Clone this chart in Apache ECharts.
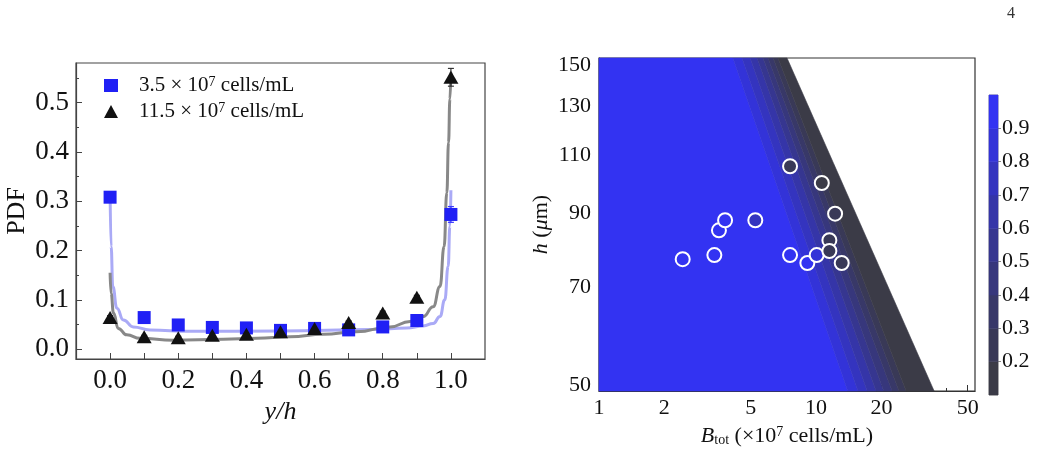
<!DOCTYPE html>
<html>
<head>
<meta charset="utf-8">
<script src="https://cdn.jsdelivr.net/npm/echarts@6.0.0/dist/echarts.min.js"></script>
<style>
  html, body { margin: 0; padding: 0; background: #fff; }
  #main { width: 1037px; height: 453px; }
</style>
</head>
<body>
<div id="main"></div>
<script>
// ---- left panel: PDF across the channel ----
var yh = [0.0, 0.1, 0.2, 0.3, 0.4, 0.5, 0.6, 0.7, 0.8, 0.9, 1.0];
var pdfLow  = [0.308, 0.064, 0.049, 0.044, 0.043, 0.038, 0.042, 0.039, 0.045, 0.058, 0.273]; // 3.5e7
var pdfHigh = [0.064, 0.025, 0.023, 0.028, 0.030, 0.035, 0.042, 0.054, 0.073, 0.105, 0.551]; // 11.5e7
var errLow  = [0.010, 0.003, 0.003, 0.003, 0.003, 0.003, 0.003, 0.003, 0.003, 0.004, 0.016];
var errHigh = [0.004, 0.003, 0.003, 0.003, 0.003, 0.003, 0.003, 0.003, 0.004, 0.004, 0.018];

// fitted curves
var fitLowX = [0, 0.003, 0.008, 0.02, 0.039, 0.068, 0.117, 0.235, 0.5, 0.772, 0.87, 0.919, 0.948, 0.968, 0.982, 0.992, 0.997, 1.0];
var fitLowY = [0.320, 0.208, 0.127, 0.083, 0.059, 0.045, 0.039, 0.036, 0.037, 0.040, 0.043, 0.047, 0.052, 0.066, 0.100, 0.168, 0.249, 0.322];
var fitHighX = [0, 0.003, 0.01, 0.024, 0.049, 0.088, 0.186, 0.332, 0.43, 0.528, 0.626, 0.723, 0.821, 0.88, 0.919, 0.948, 0.968, 0.98, 0.988, 0.993, 0.997, 1.0];
var fitHighY = [0.155, 0.113, 0.073, 0.042, 0.029, 0.022, 0.018, 0.020, 0.022, 0.025, 0.030, 0.035, 0.045, 0.056, 0.066, 0.086, 0.127, 0.208, 0.317, 0.419, 0.507, 0.561];

// ---- right panel: phase map ----
var sampleB   = [2.43, 3.40, 3.57, 3.81, 5.25, 7.59, 7.59, 9.12, 10.07, 10.63, 11.52, 11.52, 12.24, 13.13];
var sampleH   = [77.0, 78.1, 85.0, 88.0, 88.0, 105.9, 78.1, 76.0, 78.1, 100.0, 82.2, 79.2, 90.0, 76.0];
var sampleVal = [0.95, 0.95, 0.95, 0.95, 0.75, 0.25, 0.95, 0.95, 0.85, 0.15, 0.25, 0.25, 0.25, 0.25];

// contour edges (left to right): B at the top (h=153.5) and bottom (h=49) of the frame
var edgeLevels = [1.0, 0.9, 0.8, 0.7, 0.6, 0.5, 0.4, 0.3, 0.2, 0.1];
var edgeTopB   = [1.0, 4.14, 4.56, 4.97, 5.35, 5.70, 6.01, 6.34, 6.68, 7.35];
var edgeBotB   = [1.0, 14.0, 15.6, 17.2, 18.9, 20.5, 22.4, 24.1, 26.0, 35.0];

var barLevels = [0.1, 0.2, 0.3, 0.4, 0.5, 0.6, 0.7, 0.8, 0.9, 1.0];
var barColors = ['#3b3b47', '#393957', '#383868', '#37377c', '#363690', '#3535a8', '#3434bf', '#3333d8', '#3333f2'];

var hMin = 49, hMax = 153.5, bMin = 1, bMax = 54;
var majorB = [1, 2, 5, 10, 20, 50];
var minorB = [3, 4, 6, 7, 8, 9, 30, 40];
var majorH = [50, 70, 90, 110, 130, 150];

var serif = 'Liberation Serif';
var ink = '#111';

function colorFor(v) {
  var k = Math.floor((v - 0.1) * 10 + 1e-9);
  return barColors[Math.max(0, Math.min(barColors.length - 1, k))];
}
function lg(v) { return Math.log10(v); }

var chart = echarts.init(document.getElementById('main'));

var option = {
  animation: false,
  backgroundColor: '#fff',
  textStyle: { fontFamily: serif, color: ink },
  graphic: [{
    type: 'text', left: 1007, top: 6,
    style: { text: '4', font: '16px "Liberation Serif"', fill: '#333' }
  }],
  legend: {
    left: 104, top: 75, orient: 'vertical', padding: 0,
    itemWidth: 14, itemHeight: 13, itemGap: 5,
    data: ['low', 'high'],
    formatter: function (n) {
      return n === 'low' ? '{g|}3.5 × 10{s|7} cells/mL' : '{g|}11.5 × 10{s|7} cells/mL';
    },
    textStyle: {
      fontFamily: serif, fontSize: 21, color: ink,
      rich: { s: { fontSize: 14, verticalAlign: 'top', fontFamily: serif }, g: { width: 16 } }
    }
  },
  grid: [
    { left: 76, top: 63, width: 409, height: 296, show: true, borderColor: '#444', borderWidth: 1.2, backgroundColor: 'transparent' },
    { left: 599, top: 58, width: 376, height: 333, show: true, borderColor: '#333', borderWidth: 1.2, backgroundColor: 'transparent' },
    { left: 989, top: 95, width: 9, height: 300, show: true, borderColor: '#999', borderWidth: 1, backgroundColor: 'transparent' }
  ],
  xAxis: [
    { // 0 left panel
      type: 'value', gridIndex: 0, min: -0.1, max: 1.1,
      name: 'y/h', nameLocation: 'middle', nameGap: 38,
      nameTextStyle: { fontFamily: serif, fontSize: 26, fontStyle: 'italic', color: ink },
      axisLine: { onZero: false, lineStyle: { color: '#444', width: 1.2 } },
      axisTick: { inside: true, length: 6, customValues: yh, lineStyle: { color: '#444' } },
      axisLabel: { customValues: [0, 0.2, 0.4, 0.6, 0.8, 1.0], margin: 8, fontSize: 27, fontFamily: serif, color: ink,
        formatter: function (v) { return v.toFixed(1); } },
      splitLine: { show: false }
    },
    { // 1 right panel, log scale for data
      type: 'log', logBase: 10, gridIndex: 1, min: bMin, max: bMax, show: false
    },
    { // 2 right panel ticks/labels
      type: 'value', gridIndex: 1, position: 'bottom', min: 0, max: lg(bMax),
      name: '{i|B}{sub|tot} (×10{sup|7} cells/mL)', nameLocation: 'middle', nameGap: 34,
      nameTextStyle: { fontFamily: serif, fontSize: 22, color: ink,
        rich: {
          i: { fontStyle: 'italic', fontSize: 22, fontFamily: serif },
          sub: { fontSize: 14, verticalAlign: 'bottom', fontFamily: serif },
          sup: { fontSize: 14, verticalAlign: 'top', fontFamily: serif }
        } },
      axisLine: { onZero: false, lineStyle: { color: '#333', width: 1.2 } },
      axisTick: { inside: true, length: 6, customValues: majorB.map(lg), lineStyle: { color: '#333' } },
      axisLabel: { customValues: majorB.map(lg), margin: 6, fontSize: 22, fontFamily: serif, color: ink,
        formatter: function (v) { return String(Math.round(Math.pow(10, v))); } },
      splitLine: { show: false }
    },
    { // 3 right panel minor ticks
      type: 'value', gridIndex: 1, position: 'bottom', min: 0, max: lg(bMax),
      axisLine: { show: false, onZero: false },
      axisTick: { inside: true, length: 3, customValues: minorB.map(lg), lineStyle: { color: '#333' } },
      axisLabel: { show: false }, splitLine: { show: false }
    },
    { // 4 colorbar
      type: 'value', gridIndex: 2, min: 0, max: 1, show: false
    }
  ],
  yAxis: [
    { // 0 left panel
      type: 'value', gridIndex: 0, min: -0.02, max: 0.58,
      name: 'PDF', nameLocation: 'middle', nameGap: 46,
      nameTextStyle: { fontFamily: serif, fontSize: 26, color: ink },
      axisLine: { onZero: false, lineStyle: { color: '#444', width: 1.2 } },
      axisTick: { inside: true, length: 6, customValues: [0, 0.1, 0.2, 0.3, 0.4, 0.5], lineStyle: { color: '#444' } },
      axisLabel: { customValues: [0, 0.1, 0.2, 0.3, 0.4, 0.5], margin: 7, fontSize: 27, fontFamily: serif, color: ink,
        formatter: function (v) { return v.toFixed(1); } },
      splitLine: { show: false }
    },
    { // 1 left panel minor ticks
      type: 'value', gridIndex: 0, position: 'left', min: -0.02, max: 0.58,
      axisLine: { show: false, onZero: false },
      axisTick: { inside: true, length: 3, customValues: [0.05, 0.15, 0.25, 0.35, 0.45, 0.55], lineStyle: { color: '#444' } },
      axisLabel: { show: false }, splitLine: { show: false }
    },
    { // 2 right panel, log scale for data
      type: 'log', logBase: 10, gridIndex: 1, min: hMin, max: hMax, show: false
    },
    { // 3 right panel ticks/labels
      type: 'value', gridIndex: 1, position: 'left', min: lg(hMin), max: lg(hMax),
      name: '{i|h} ({i|μ}m)', nameLocation: 'middle', nameGap: 47,
      nameTextStyle: { fontFamily: serif, fontSize: 22, color: ink,
        rich: { i: { fontStyle: 'italic', fontSize: 22, fontFamily: serif } } },
      axisLine: { onZero: false, lineStyle: { color: '#333', width: 1.2 } },
      axisTick: { inside: true, length: 6, customValues: majorH.map(lg), lineStyle: { color: '#333' } },
      axisLabel: { customValues: majorH.map(lg), margin: 8, fontSize: 22, fontFamily: serif, color: ink,
        formatter: function (v) { return String(Math.round(Math.pow(10, v))); } },
      splitLine: { show: false }
    },
    { // 4 colorbar
      type: 'value', gridIndex: 2, position: 'right', min: 0.1, max: 1.0,
      axisLine: { show: false, onZero: false },
      axisTick: { length: 3, customValues: barLevels.slice(1, 9), lineStyle: { color: '#888' } },
      axisLabel: { customValues: barLevels.slice(1, 9), margin: 4, fontSize: 22, fontFamily: serif, color: ink,
        formatter: function (v) { return v.toFixed(1); } },
      splitLine: { show: false }
    }
  ],
  series: [
    {
      name: 'fitLow', type: 'line', xAxisIndex: 0, yAxisIndex: 0,
      data: fitLowX.map(function (x, i) { return [x, fitLowY[i]]; }),
      showSymbol: false, smooth: true, smoothMonotone: 'x',
      lineStyle: { color: '#aaaaf6', width: 3 }, z: 2
    },
    {
      name: 'fitHigh', type: 'line', xAxisIndex: 0, yAxisIndex: 0,
      data: fitHighX.map(function (x, i) { return [x, fitHighY[i]]; }),
      showSymbol: false, smooth: true, smoothMonotone: 'x',
      lineStyle: { color: '#888888', width: 3 }, z: 2
    },
    {
      name: 'errors', type: 'custom', xAxisIndex: 0, yAxisIndex: 0, z: 3,
      data: yh.map(function (x, i) { return [x, pdfLow[i], errLow[i], 0]; })
        .concat(yh.map(function (x, i) { return [x, pdfHigh[i], errHigh[i], 1]; })),
      renderItem: function (params, api) {
        var x = api.value(0), y = api.value(1), e = api.value(2);
        var top = api.coord([x, y + e]), bot = api.coord([x, y - e]);
        var c = api.value(3) ? '#333' : '#3a3aff';
        var st = { stroke: c, lineWidth: 1.2 };
        return { type: 'group', children: [
          { type: 'line', shape: { x1: top[0], y1: top[1], x2: bot[0], y2: bot[1] }, style: st },
          { type: 'line', shape: { x1: top[0] - 3, y1: top[1], x2: top[0] + 3, y2: top[1] }, style: st },
          { type: 'line', shape: { x1: bot[0] - 3, y1: bot[1], x2: bot[0] + 3, y2: bot[1] }, style: st }
        ] };
      }
    },
    {
      name: 'low', type: 'scatter', xAxisIndex: 0, yAxisIndex: 0,
      data: yh.map(function (x, i) { return [x, pdfLow[i]]; }),
      symbol: 'rect', symbolSize: 13, itemStyle: { color: '#2020f5', opacity: 1 }, z: 4
    },
    {
      name: 'high', type: 'scatter', xAxisIndex: 0, yAxisIndex: 0,
      data: yh.map(function (x, i) { return [x, pdfHigh[i]]; }),
      symbol: 'triangle', symbolSize: [15, 13], itemStyle: { color: '#111', opacity: 1 }, z: 5
    },
    {
      name: 'field', type: 'custom', xAxisIndex: 1, yAxisIndex: 2, z: 1, silent: true,
      data: edgeTopB.slice(0, edgeTopB.length - 1).map(function (b, k) { return [b, hMax, k]; }),
      encode: { x: 0, y: 1 },
      renderItem: function (params, api) {
        var k = api.value(2);
        var pts = [
          api.coord([edgeTopB[k], hMax]),
          api.coord([edgeTopB[k + 1], hMax]),
          api.coord([edgeBotB[k + 1], hMin]),
          api.coord([edgeBotB[k], hMin])
        ];
        var lvl = edgeLevels[k + 1];
        return { type: 'polygon', shape: { points: pts },
          style: { fill: colorFor(lvl + 0.05), stroke: colorFor(lvl + 0.05), lineWidth: 0.6 } };
      }
    },
    {
      name: 'samples', type: 'scatter', xAxisIndex: 1, yAxisIndex: 2, z: 6,
      data: sampleB.map(function (b, i) { return [b, sampleH[i], sampleVal[i]]; }),
      symbol: 'circle', symbolSize: 14,
      itemStyle: { color: function (p) { return colorFor(p.value[2]); }, borderColor: '#fff', borderWidth: 2, opacity: 1 }
    },
    {
      name: 'colorbar', type: 'custom', xAxisIndex: 4, yAxisIndex: 4, z: 2, silent: true,
      data: barColors.map(function (c, k) { return [0, barLevels[k], k]; }),
      encode: { x: 0, y: 1 },
      renderItem: function (params, api) {
        var k = api.value(2);
        var p0 = api.coord([0, barLevels[k + 1]]), p1 = api.coord([1, barLevels[k]]);
        return { type: 'rect', shape: { x: p0[0], y: p0[1], width: p1[0] - p0[0], height: p1[1] - p0[1] },
          style: { fill: barColors[k], stroke: barColors[k], lineWidth: 0.5 } };
      }
    }
  ]
};

chart.setOption(option);
</script>
</body>
</html>
